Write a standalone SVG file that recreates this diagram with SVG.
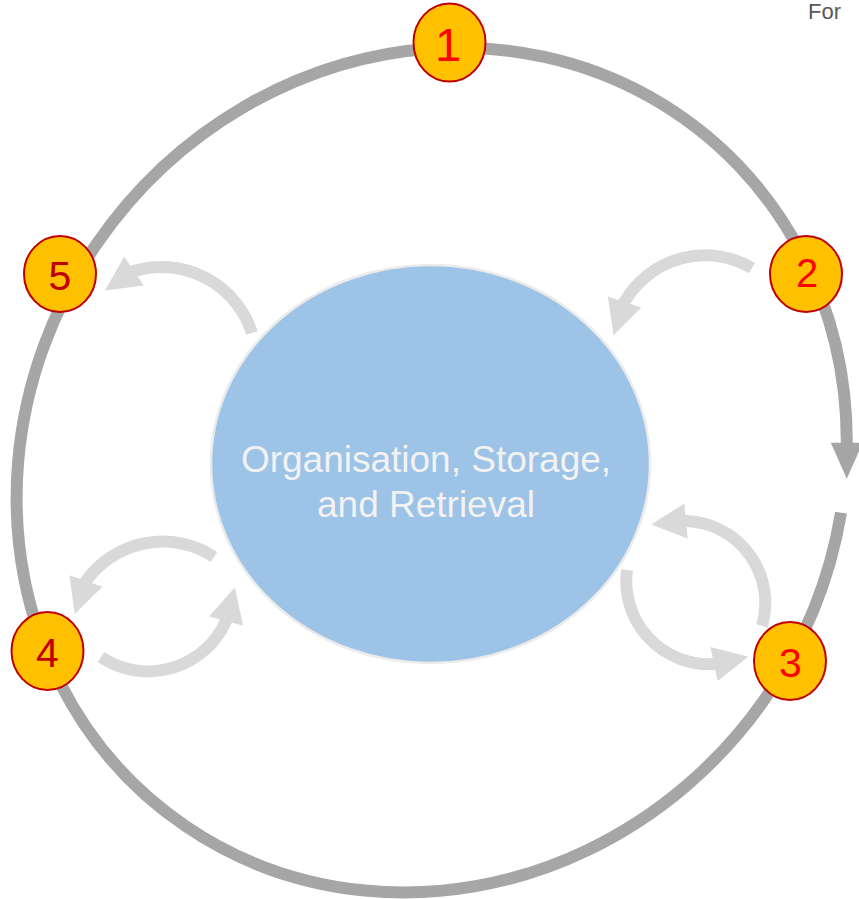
<svg xmlns="http://www.w3.org/2000/svg" width="859" height="899" viewBox="0 0 859 899">
<defs>
<style>
.ring{fill:none;stroke:#a6a6a6;stroke-width:12;}
.flow{fill:none;stroke:#d9d9d9;stroke-width:12;stroke-linecap:butt;}
.badge{fill:#ffc000;stroke:#c00000;stroke-width:2;}
.num{font-family:"Liberation Sans",Arial,sans-serif;text-anchor:middle;}
.center{fill:#9dc3e6;stroke:#ebebeb;stroke-width:2.5;}
.ctext{font-family:"Liberation Sans",Arial,sans-serif;font-size:37px;fill:#f2f2f2;text-anchor:middle;}
</style>
<marker id="ringHead" markerUnits="userSpaceOnUse" markerWidth="40" markerHeight="34" refX="1" refY="16" orient="auto" overflow="visible">
<path d="M0,0 L36,16 L0,32 z" fill="#a6a6a6"/>
</marker>
<marker id="flowHead" markerUnits="userSpaceOnUse" markerWidth="40" markerHeight="36" refX="1" refY="17.5" orient="auto" overflow="visible">
<path d="M0,0 L35,17.5 L0,35 z" fill="#d9d9d9"/>
</marker>
</defs>
<rect width="859" height="899" fill="#ffffff"/>
<text x="808" y="19" font-family="Liberation Sans, Arial, sans-serif" font-size="22" fill="#595959">For</text>
<g id="connectors">
<path id="cycle" class="ring" d="M841,512.6 A432.9 404.1 -52.3 1 1 846.8,442.7 l0,1" marker-end="url(#ringHead)"/>
<path id="a2" class="flow" d="M752,268 A93 93 0 0 0 624.5,302 l-0.31,0.95" marker-end="url(#flowHead)"/>
<path id="a5" class="flow" d="M252,333 A95 95 0 0 0 134,271 l-0.83,0.56" marker-end="url(#flowHead)"/>
<path id="a3up" class="flow" d="M762,626 A82 82 0 0 0 686,521 l-0.995,0.1" marker-end="url(#flowHead)"/>
<path id="a3down" class="flow" d="M627,570 A83 83 0 0 0 714,664 l0.978,-0.207" marker-end="url(#flowHead)"/>
<path id="a4up" class="flow" d="M214,557 A94 94 0 0 0 86,581 l-0.325,0.946" marker-end="url(#flowHead)"/>
<path id="a4down" class="flow" d="M101,657 A85 85 0 0 0 226,621 l0.256,-0.967" marker-end="url(#flowHead)"/>
</g>
<g id="node-center">
<ellipse class="center" cx="430.5" cy="464" rx="219.5" ry="199"/>
<text class="ctext" x="426" y="472">Organisation, Storage,</text>
<text class="ctext" x="426" y="517">and Retrieval</text>
</g>
<g id="node-1">
<ellipse class="badge" cx="449.5" cy="42.5" rx="36" ry="39"/>
<text class="num" x="448" y="60.5" font-size="47" fill="#ff0000">1</text>
</g>
<g id="node-2">
<ellipse class="badge" cx="806" cy="274" rx="36" ry="38"/>
<text class="num" x="807" y="287" font-size="40" fill="#ff0000">2</text>
</g>
<g id="node-3">
<ellipse class="badge" cx="790" cy="661" rx="36" ry="39"/>
<text class="num" x="790.5" y="677" font-size="41" fill="#ff0000">3</text>
</g>
<g id="node-4">
<ellipse class="badge" cx="47.5" cy="651" rx="36" ry="39"/>
<text class="num" x="47.5" y="667" font-size="41" fill="#c00000">4</text>
</g>
<g id="node-5">
<ellipse class="badge" cx="60" cy="274" rx="36" ry="38"/>
<text class="num" x="60" y="290" font-size="41" fill="#c00000">5</text>
</g>
</svg>
